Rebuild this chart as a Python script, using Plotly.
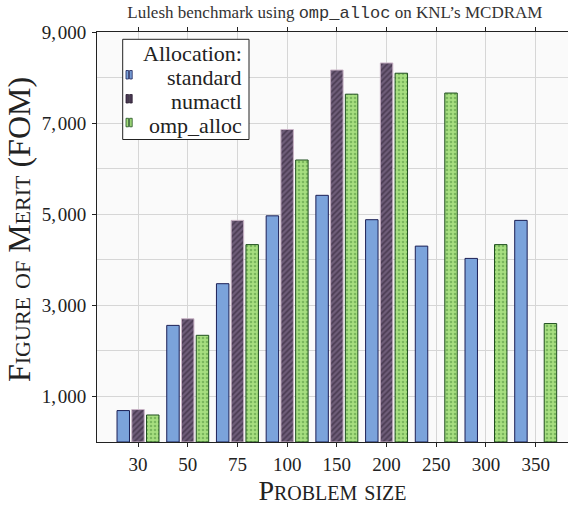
import plotly.graph_objects as go

sizes = ["30", "50", "75", "100", "150", "200", "250", "300", "350"]
standard = [690, 2560, 3475, 4965, 5415, 4880, 4300, 4030, 4865]
numactl = [712, 2705, 4865, 6860, 8165, 8320, None, None, None]
omp_alloc = [593, 2342, 4333, 6190, 7635, 8095, 7660, 4333, 2600]
series_names = ["standard", "numactl", "omp_alloc"]

y_tickvals = [1000, 3000, 5000, 7000, 9000]
y_ticktext = ["1,\u200a000", "3,\u200a000", "5,\u200a000", "7,\u200a000", "9,\u200a000"]
y_minor = [2000, 4000, 6000, 8000]

SERIF = "Liberation Serif"

styles = [
    dict(color="#7ba3db", line=dict(color="#1b1f55", width=1)),
    dict(color="#564660", line=dict(color="#c9b3c6", width=1),
         pattern=dict(shape="/", fgcolor="#281c2e", bgcolor="#6f5d79", size=4, solidity=0.45)),
    dict(color="#a3dc7c", line=dict(color="#1f4f1f", width=1),
         pattern=dict(shape=".", fgcolor="#4e8f3a", bgcolor="#a7df80", size=4, solidity=0.35)),
]
icon_fill = ["#7ba3db", "#4a3a54", "#a3dc7c"]
icon_line = ["#1b1f55", "#2a1d30", "#1f4f1f"]

fig = go.Figure()
for name, vals, st in zip(series_names, [standard, numactl, omp_alloc], styles):
    fig.add_bar(x=sizes, y=vals, name=name, marker=st, showlegend=False)

# plot area geometry (pixels) for placing the hand-made legend
L, R, T, B = 97, 568, 32, 442
def px(xp):
    return (xp - L) / (R - L)
def py(yp):
    return (B - yp) / (B - T)

shapes = [dict(type="rect", xref="paper", yref="paper",
               x0=px(122.7), x1=px(249), y0=py(139.5), y1=py(39.3),
               line=dict(color="#222222", width=1), fillcolor="white", layer="above")]
annotations = [dict(text="Allocation:", xref="paper", yref="paper",
                    x=px(243.8), y=py(53.7), xanchor="right", yanchor="middle",
                    showarrow=False, font=dict(family=SERIF, size=22, color="#222222"))]
baselines = [85.5, 109.5, 133.3]
for i, name in enumerate(series_names):
    bl = baselines[i]
    annotations.append(dict(text=name, xref="paper", yref="paper",
                            x=px(243.8), y=py(bl - 7.6), xanchor="right", yanchor="middle",
                            showarrow=False, font=dict(family=SERIF, size=22, color="#222222")))
    for x0 in (126.0, 129.6):
        shapes.append(dict(type="rect", xref="paper", yref="paper",
                           x0=px(x0), x1=px(x0 + 2.6), y0=py(bl - 6.5), y1=py(bl - 15),
                           line=dict(color=icon_line[i], width=0.8),
                           fillcolor=icon_fill[i], layer="above"))

annotations.append(dict(text="Figure of Merit (FOM)", xref="paper", yref="paper",
                        x=px(19), y=py(230), xanchor="center", yanchor="middle",
                        textangle=-90, showarrow=False,
                        font=dict(family=SERIF, size=32, color="#222222", variant="small-caps")))

fig.update_layout(
    width=568, height=506,
    margin=dict(l=L, r=0, t=T, b=506 - B, autoexpand=False),
    paper_bgcolor="white",
    plot_bgcolor="#fafafa",
    barmode="group",
    bargap=0.11,
    bargroupgap=0.155,
    font=dict(family=SERIF, size=19, color="#222222"),
    title=dict(
        text="Lulesh benchmark using <span style=\"font-family:Liberation Mono\">omp_alloc</span> on KNL\u2019s MCDRAM",
        x=0.505, xref="paper", xanchor="center",
        y=0.977, yref="container", yanchor="middle",
        font=dict(family=SERIF, size=17, color="#333333"),
    ),
    showlegend=False,
    shapes=shapes,
    annotations=annotations,
)

fig.update_xaxes(
    type="category",
    range=[-0.825, 8.65],
    automargin=False,
    showline=True, linecolor="#222222", linewidth=1, mirror="ticks",
    ticks="outside", ticklen=4, tickcolor="#222222",
    showgrid=True, gridcolor="#d6d6d6", gridwidth=1,
    tickfont=dict(family=SERIF, size=19),
    ticklabelstandoff=1,
    title=dict(text="Problem size", font=dict(family=SERIF, size=28, variant="small-caps"), standoff=3),
)
fig.update_yaxes(
    range=[0, 9000],
    automargin=False,
    tickvals=y_tickvals, ticktext=y_ticktext,
    showline=True, linecolor="#222222", linewidth=1,
    ticks="outside", ticklen=4, tickcolor="#222222",
    showgrid=True, gridcolor="#d6d6d6", gridwidth=1,
    minor=dict(tickvals=y_minor, showgrid=True, gridcolor="#d6d6d6", gridwidth=1, ticks=""),
    zeroline=False,
    tickfont=dict(family=SERIF, size=19),
    ticklabelstandoff=2,
)

fig.write_html("out.html", config={"displayModeBar": False},
               post_script="document.body.style.margin='0';document.body.style.padding='0';")
